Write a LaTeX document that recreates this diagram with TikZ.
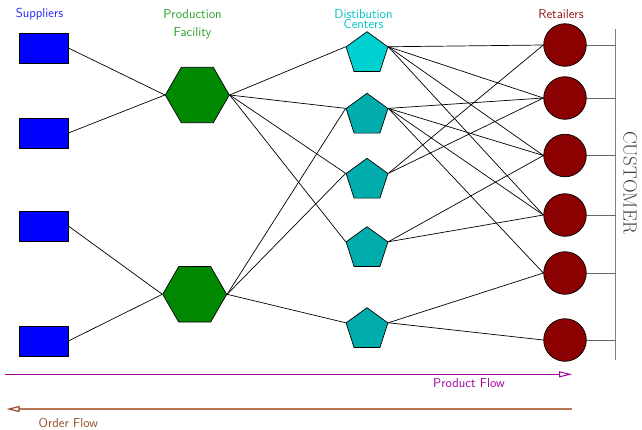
\documentclass[tikz,border=0pt]{standalone}
\usetikzlibrary{shapes.geometric,arrows.meta}
\definecolor{supblue}{RGB}{0,0,255}
\definecolor{suptext}{RGB}{40,40,255}
\definecolor{facgreen}{RGB}{0,136,0}
\definecolor{factext}{RGB}{40,160,40}
\definecolor{dcone}{RGB}{0,208,208}
\definecolor{dcrest}{RGB}{0,172,172}
\definecolor{dctext}{RGB}{0,195,195}
\definecolor{retred}{RGB}{139,0,0}
\definecolor{rettext}{RGB}{150,20,20}
\definecolor{custgray}{RGB}{128,128,128}
\definecolor{pflowc}{RGB}{160,0,160}
\definecolor{oflowline}{RGB}{185,118,82}
\definecolor{oflowtext}{RGB}{150,75,40}
\begin{document}
\begin{tikzpicture}[x=1pt,y=-1pt,
  supbox/.style={draw=black,fill=supblue,minimum width=49pt,minimum height=30pt,inner sep=0pt,line width=0.7pt},
  facbox/.style={regular polygon,regular polygon sides=6,minimum size=64pt,inner sep=0pt,draw=black,fill=facgreen,line width=0.7pt},
  dcbox/.style={regular polygon,regular polygon sides=5,minimum size=44pt,inner sep=0pt,draw=black,fill=dcrest,line width=0.7pt},
  retbox/.style={circle,minimum size=42.6pt,inner sep=0pt,draw=black,fill=retred,line width=0.7pt},
  link/.style={draw=black,line width=0.7pt},
  custlink/.style={draw=custgray!80!black,line width=0.9pt},
  lab/.style={font=\sffamily\fontsize{13}{17.5}\selectfont,align=center,inner sep=0pt},
  pflow/.style={draw=pflowc,line width=1pt,-{Triangle[open,length=13pt,width=6pt]}},
  oflow/.style={draw=oflowline,line width=1.2pt,-{Triangle[open,length=13pt,width=6pt,color=oflowtext]}}]
\useasboundingbox (0,0) rectangle (642,429);

% labels
\node[lab,text=suptext] (lsup) at (39.5,14) {Suppliers};
\node[lab,text=factext] (lfac) at (192.5,24.5) {Production\\Facility};
\node[lab,text=dctext,font=\sffamily\fontsize{13}{10.5}\selectfont] (ldc) at (363.5,19) {Distibution\\Centers};
\node[lab,text=rettext] (lret) at (561,14) {Retailers};

% suppliers
\node[supbox] (s1) at (43.5,48) {};
\node[supbox] (s2) at (43.5,133) {};
\node[supbox] (s3) at (43.5,226) {};
\node[supbox] (s4) at (43.5,341) {};

% factories
\node[facbox] (f1) at (197.3,95) {};
\node[facbox] (f2) at (194.7,294.3) {};

% distribution centers
\node[dcbox,fill=dcone] (d1) at (367,53.7) {};
\node[dcbox] (d2) at (367,115.3) {};
\node[dcbox] (d3) at (367,180.3) {};
\node[dcbox] (d4) at (367,248.7) {};
\node[dcbox] (d5) at (367,329.7) {};

% retailers
\node[retbox] (r1) at (565,45) {};
\node[retbox] (r2) at (565,98) {};
\node[retbox] (r3) at (565,155.5) {};
\node[retbox] (r4) at (565,215) {};
\node[retbox] (r5) at (565,273) {};
\node[retbox] (r6) at (565,340) {};

% customer bar
\coordinate (ctop) at (615.5,29);
\coordinate (cbot) at (615.5,360);
\draw[draw=custgray,line width=1.5pt] (ctop) -- (cbot);
\foreach \r in {r1,r2,r3,r4,r5,r6}{
  \draw[custlink] (\r.east) -- (\r.east -| ctop);
}
\node[rotate=-90,text=black!75,font=\fontsize{19}{19}\selectfont,inner sep=0pt] (cust) at (630,182.5) {CUSTOMER};

% supplier -> factory
\draw[link] (s1.east) -- (f1.west);
\draw[link] (s2.east) -- (f1.west);
\draw[link] (s3.east) -- (f2.west);
\draw[link] (s4.east) -- (f2.west);

% factory -> DC
\foreach \d in {d1,d2,d3,d4}{\draw[link] (f1.east) -- (\d.corner 2);}
\foreach \d in {d2,d3,d5}{\draw[link] (f2.east) -- (\d.corner 2);}

% DC -> retailer
\foreach \r in {r1,r2,r3,r4}{\draw[link] (d1.corner 5) -- (\r.west);}
\foreach \r in {r2,r3,r4,r5}{\draw[link] (d2.corner 5) -- (\r.west);}
\foreach \r in {r1,r2}{\draw[link] (d3.corner 5) -- (\r.west);}
\foreach \r in {r3,r4}{\draw[link] (d4.corner 5) -- (\r.west);}
\foreach \r in {r5,r6}{\draw[link] (d5.corner 5) -- (\r.west);}

% flows
\coordinate (pa) at (5,374.3);
\coordinate (pb) at (572,374.3);
\draw[pflow] (pa) -- (pb);
\node[lab,text=pflowc] (lpf) at (469,383.3) {Product Flow};
\coordinate (oa) at (572,409);
\coordinate (ob) at (6.5,409);
\draw[oflow] (oa) -- (ob);
\node[lab,text=oflowtext] (lof) at (68.4,423.3) {Order Flow};
\end{tikzpicture}
\end{document}
